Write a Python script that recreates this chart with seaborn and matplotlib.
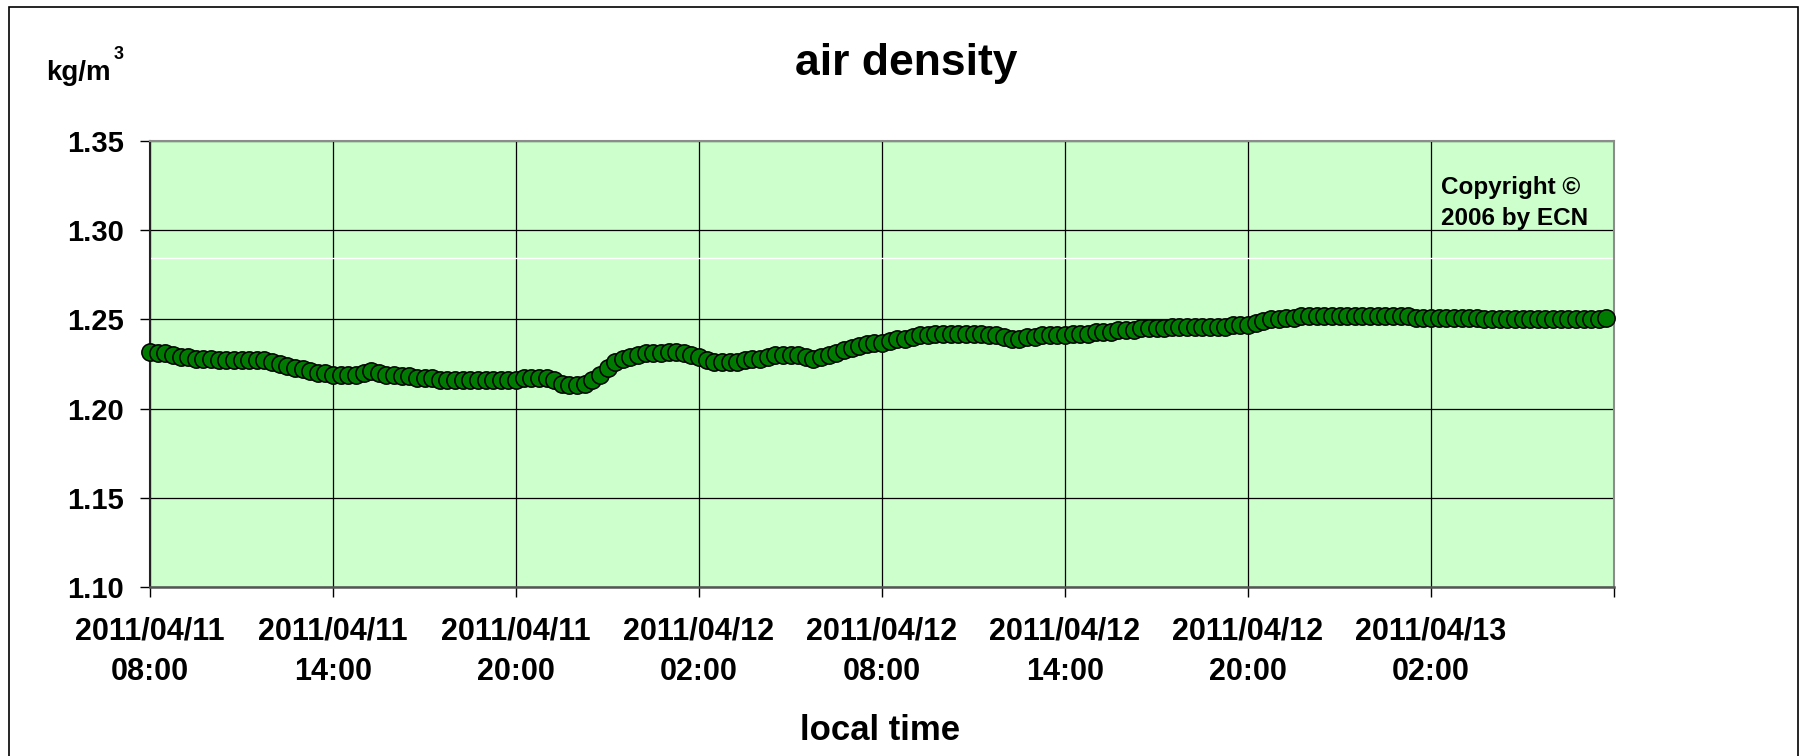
import matplotlib
matplotlib.use("Agg")
import matplotlib.pyplot as plt
from matplotlib.patches import Rectangle
import seaborn as sns
import pandas as pd

# air density, 15-minute readings from 2011/04/11 08:00
start = "2011-04-11 08:00"
step = "15min"
density = [
    1.232, 1.231, 1.231, 1.230,  1.229, 1.229, 1.228, 1.228,
    1.228, 1.227, 1.227, 1.227,  1.227, 1.227, 1.227, 1.227,
    1.226, 1.225, 1.224, 1.223,  1.222, 1.221, 1.220, 1.220,
    1.219, 1.219, 1.219, 1.219,  1.220, 1.221, 1.220, 1.219,
    1.219, 1.218, 1.218, 1.217,  1.217, 1.217, 1.216, 1.216,
    1.216, 1.216, 1.216, 1.216,  1.216, 1.216, 1.216, 1.216,
    1.216, 1.217, 1.217, 1.217,  1.217, 1.216, 1.214, 1.213,
    1.213, 1.214, 1.216, 1.219,  1.223, 1.226, 1.228, 1.229,
    1.230, 1.231, 1.231, 1.231,  1.232, 1.232, 1.231, 1.230,
    1.229, 1.227, 1.226, 1.226,  1.226, 1.226, 1.227, 1.228,
    1.228, 1.229, 1.230, 1.230,  1.230, 1.230, 1.229, 1.228,
    1.229, 1.230, 1.231, 1.233,  1.234, 1.235, 1.236, 1.237,
    1.237, 1.238, 1.239, 1.239,  1.240, 1.241, 1.241, 1.242,
    1.242, 1.242, 1.242, 1.242,  1.242, 1.242, 1.241, 1.241,
    1.240, 1.239, 1.239, 1.240,  1.240, 1.241, 1.241, 1.241,
    1.241, 1.242, 1.242, 1.242,  1.243, 1.243, 1.243, 1.244,
    1.244, 1.244, 1.245, 1.245,  1.245, 1.245, 1.246, 1.246,
    1.246, 1.246, 1.246, 1.246,  1.246, 1.246, 1.247, 1.247,
    1.247, 1.248, 1.249, 1.250,  1.250, 1.251, 1.251, 1.252,
    1.252, 1.252, 1.252, 1.252,  1.252, 1.252, 1.252, 1.252,
    1.252, 1.252, 1.252, 1.252,  1.252, 1.252, 1.251, 1.251,
    1.251, 1.251, 1.251, 1.251,  1.251, 1.251, 1.251, 1.250,
    1.250, 1.250, 1.250, 1.250,  1.250, 1.250, 1.250, 1.250,
    1.250, 1.250, 1.250, 1.250,  1.250, 1.250, 1.250, 1.251,
]
y_ticks = [1.10, 1.15, 1.20, 1.25, 1.30, 1.35]

times = pd.date_range(start, periods=len(density), freq=step)
df = pd.DataFrame({"time": times, "density": density})

sns.set_style("white")
plt.rcParams["font.family"] = ["Liberation Sans", "DejaVu Sans"]
plt.rcParams["font.weight"] = "bold"
plt.rcParams["text.color"] = "black"
plt.rcParams["xtick.color"] = "black"
plt.rcParams["ytick.color"] = "black"

W, H = 1803, 756
fig = plt.figure(figsize=(W / 100, H / 100), dpi=100)
ax = fig.add_axes([150 / W, 1 - 587 / H, 1464 / W, 446 / H])
ax.set_facecolor("#ccffcc")

# grid
ax.set_axisbelow(True)
ax.grid(True, color="black", linewidth=0.9)
ax.axhline(1.2845, color="white", linewidth=1.0, zorder=0.8)

sns.scatterplot(data=df, x="time", y="density", ax=ax, s=155,
                color="#007a00", edgecolor="black", linewidth=1.1,
                zorder=3, clip_on=False, legend=False)

ax.set_xlim(pd.Timestamp("2011-04-11 08:00"), pd.Timestamp("2011-04-13 08:00"))
ax.set_ylim(1.10, 1.35)
ax.set_yticks(y_ticks)
ax.set_yticklabels([f"{v:.2f}" for v in y_ticks])

xt = pd.date_range("2011-04-11 08:00", "2011-04-13 08:00", freq="6h")
ax.set_xticks(xt)
xl = [t.strftime("%Y/%m/%d\n%H:%M") for t in xt]
xl[-1] = ""
ax.set_xticklabels(xl, linespacing=1.45)

ax.tick_params(axis="y", direction="out", length=7, width=1, color="black",
               labelsize=21, pad=12, left=True)
ax.tick_params(axis="x", direction="out", length=7, width=1, color="black",
               labelsize=22, pad=14, bottom=True)
for lab in ax.get_xticklabels() + ax.get_yticklabels():
    lab.set_fontweight("bold")

ax.set_xlabel("")
ax.set_ylabel("")

for side in ["top", "right"]:
    ax.spines[side].set_visible(True)
    ax.spines[side].set_color("#8c8c8c")
    ax.spines[side].set_linewidth(1.5)
ax.spines["left"].set_color("#222222")
ax.spines["left"].set_linewidth(1.5)
ax.spines["bottom"].set_color("#555555")
ax.spines["bottom"].set_linewidth(1.8)

# texts
fig.text(906 / W, 1 - 63 / H, "air density", ha="center", va="center",
         fontsize=32, fontweight="bold")
fig.text(46 / W, 1 - 80 / H, "kg/m", ha="left", va="baseline",
         fontsize=20, fontweight="bold")
fig.text(114 / W, 1 - 59 / H, "3", ha="left", va="baseline",
         fontsize=13, fontweight="bold")
fig.text(880 / W, 1 - 731 / H, "local time", ha="center", va="center",
         fontsize=25, fontweight="bold")
fig.text(1441 / W, 1 - 194 / H, "Copyright ©", ha="left", va="baseline",
         fontsize=17.5, fontweight="bold")
fig.text(1441 / W, 1 - 225 / H, "2006 by ECN", ha="left", va="baseline",
         fontsize=17.5, fontweight="bold")

# outer frame
fig.patches.append(Rectangle((9 / W, -0.05), (1798 - 9) / W, 1.05 - 7 / H,
                             transform=fig.transFigure, fill=False,
                             edgecolor="black", linewidth=1.2))

fig.savefig("out.png", dpi=100)
